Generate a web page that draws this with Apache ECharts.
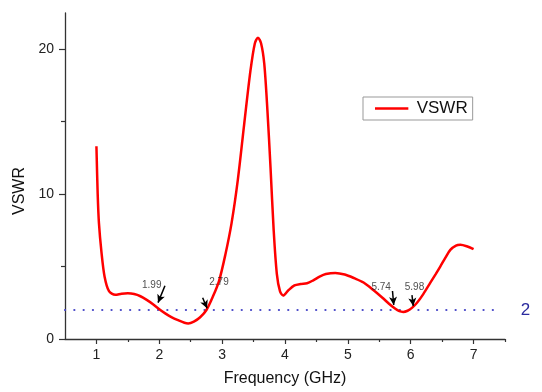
<!DOCTYPE html>
<html>
<head>
<meta charset="utf-8">
<script src="https://cdn.jsdelivr.net/npm/echarts@6/dist/echarts.min.js"></script>
<style>
  html, body { margin: 0; padding: 0; background: #fff; }
  #chart { width: 542px; height: 392px; }
</style>
</head>
<body>
<div id="chart"></div>
<script>
// VSWR curve: [frequency GHz, VSWR]
const freq = [1.00, 1.02, 1.04, 1.08, 1.13, 1.20, 1.30, 1.40, 1.50, 1.60, 1.70, 1.80, 1.90, 2.00,
  2.10, 2.20, 2.30, 2.40, 2.46, 2.55, 2.65, 2.75, 2.85, 2.95, 3.05, 3.15, 3.25, 3.35, 3.45, 3.52,
  3.57, 3.62, 3.67, 3.72, 3.77, 3.82, 3.87, 3.92, 3.97, 4.05, 4.15, 4.25, 4.35, 4.45, 4.55, 4.65,
  4.80, 4.95, 5.10, 5.25, 5.40, 5.55, 5.65, 5.75, 5.82, 5.88, 5.95, 6.02, 6.10, 6.20, 6.31, 6.40,
  6.47, 6.55, 6.63, 6.72, 6.79, 6.89, 7.00]
const vswr = [13.3, 10.0, 8.0, 6.0, 4.3, 3.3, 3.05, 3.12, 3.15, 3.1, 2.95, 2.7, 2.4, 2.05,
  1.75, 1.5, 1.3, 1.12, 1.07, 1.2, 1.5, 2.0, 2.9, 4.0, 5.8, 8.0, 11.0, 14.8, 18.5, 20.4,
  20.8, 20.4, 19.0, 15.8, 11.8, 7.5, 4.5, 3.3, 3.0, 3.35, 3.7, 3.8, 3.85, 4.05, 4.3, 4.48,
  4.56, 4.45, 4.2, 3.9, 3.4, 2.85, 2.45, 2.1, 1.92, 1.87, 1.95, 2.15, 2.5, 3.1, 3.87, 4.5,
  5.0, 5.6, 6.15, 6.45, 6.5, 6.4, 6.2]

// reference level
const threshold = 2
const thresholdSpan = [0.5, 7.4]

// marked crossing frequencies, label anchor and arrow (start -> tip)
const markNames = ["1.99", "2.79", "5.74", "5.98"]
const markTextPos = [[1.88, 3.73], [2.95, 3.94], [5.53, 3.6], [6.06, 3.6]]
const arrowFrom = [[2.09, 3.67], [2.69, 2.85], [5.71, 3.31], [6.02, 3.03]]
const arrowTo = [[1.98, 2.51], [2.76, 2.12], [5.73, 2.35], [6.04, 2.28]]

// ticks
const xMajor = [1, 2, 3, 4, 5, 6, 7]
const xMinor = [1.5, 2.5, 3.5, 4.5, 5.5, 6.5, 7.5]
const yMajor = [0, 10, 20]
const yMinor = [5, 15]

const font = "Liberation Sans, Arial, sans-serif"
const axisColor = "#333"

const chart = echarts.init(document.getElementById("chart"))

const option = {
  animation: false,
  textStyle: { fontFamily: font },
  grid: { left: 65, right: 37, top: 13, bottom: 50 },
  legend: {
    data: [{ name: "VSWR", icon: "path://M0,0H40V3H0Z" }],
    left: 363,
    top: 97,
    orient: "vertical",
    padding: [3, 5, 3, 12],
    itemWidth: 40,
    itemHeight: 2.5,
    itemGap: 0,
    borderColor: "#999",
    borderWidth: 1,
    textStyle: { fontSize: 17, color: "#111", fontFamily: font, lineHeight: 16 },
  },
  xAxis: [
    {
      type: "value",
      min: 0.5,
      max: 7.5,
      name: "Frequency (GHz)",
      nameLocation: "middle",
      nameGap: 32,
      nameTextStyle: { fontSize: 16, color: "#111" },
      splitLine: { show: false },
      axisLine: { lineStyle: { color: axisColor, width: 1.3 } },
      axisTick: { customValues: xMajor, length: 5, lineStyle: { color: axisColor, width: 1.2 } },
      axisLabel: { customValues: xMajor, fontSize: 14, color: "#222", margin: 9 },
    },
    {
      type: "value",
      min: 0.5,
      max: 7.5,
      position: "bottom",
      gridIndex: 0,
      splitLine: { show: false },
      axisLine: { show: false },
      axisTick: { customValues: xMinor, length: 3, lineStyle: { color: axisColor, width: 1.2 } },
      axisLabel: { show: false },
    },
  ],
  yAxis: [
    {
      type: "value",
      min: 0,
      max: 22.5,
      name: "VSWR",
      nameLocation: "middle",
      nameGap: 32,
      nameTextStyle: { fontSize: 16, color: "#111", padding: [0, 30, 0, 0] },
      splitLine: { show: false },
      axisLine: { show: true, lineStyle: { color: axisColor, width: 1.3 } },
      axisTick: { show: true, customValues: yMajor, length: 6, lineStyle: { color: axisColor, width: 1.2 } },
      axisLabel: { customValues: yMajor, fontSize: 14, color: "#222", margin: 11 },
    },
    {
      type: "value",
      min: 0,
      max: 22.5,
      position: "left",
      splitLine: { show: false },
      axisLine: { show: false },
      axisTick: { show: true, customValues: yMinor, length: 4, lineStyle: { color: axisColor, width: 1.2 } },
      axisLabel: { show: false },
    },
  ],
  series: [
    {
      name: "VSWR",
      type: "line",
      data: freq.map((f, i) => [f, vswr[i]]),
      smooth: 0.3,
      symbol: "none",
      lineStyle: { color: "#ff0000", width: 2.5 },
      itemStyle: { color: "#ff0000" },
      z: 3,
      markLine: {
        silent: true,
        symbol: ["none", "arrow"],
        symbolSize: [6, 8],
        label: { show: false },
        lineStyle: { color: "#000", width: 1.5, type: "solid" },
        data: arrowFrom.map((p, i) => [{ coord: p }, { coord: arrowTo[i] }]),
      },
    },
    {
      name: "threshold",
      type: "line",
      data: thresholdSpan.map((x) => [x, threshold]),
      symbol: "none",
      lineStyle: { color: "#4848c8", width: 2.2, type: [0.1, 9.2], cap: "round" },
      endLabel: {
        show: true,
        formatter: String(threshold),
        color: "#2b2b9e",
        fontSize: 17,
        distance: 22,
      },
      z: 2,
    },
    {
      name: "marks",
      type: "scatter",
      data: markTextPos.map((p, i) => [p[0], p[1], markNames[i]]),
      symbolSize: 1,
      itemStyle: { color: "rgba(0,0,0,0)" },
      label: {
        show: true,
        position: "inside",
        formatter: (p) => p.value[2],
        fontSize: 10,
        color: "#222",
      },
      emphasis: { disabled: true },
      z: 4,
    },
  ],
}

chart.setOption(option)
</script>
</body>
</html>
